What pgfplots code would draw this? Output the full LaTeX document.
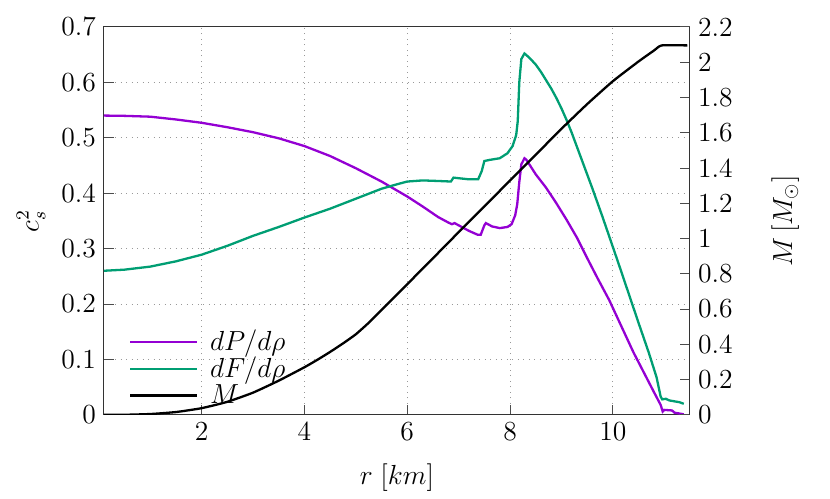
\documentclass[border=0pt]{standalone}
\usepackage{pgfplots}
\pgfplotsset{compat=1.18}
\usetikzlibrary{calc}
\definecolor{cpur}{HTML}{9400D3}
\definecolor{cgrn}{HTML}{009E73}
\pgfplotsset{longleg/.style={legend image code/.code={\draw[##1] (0cm,0cm) -- (1.03cm,0cm);}}}

\begin{document}
\begin{tikzpicture}
\pgfplotsset{
  every axis/.append style={
    scale only axis, width=254.8pt, height=168.7pt,
    xmin=0.1, xmax=11.5,
    tick align=inside, major tick length=4.3pt,
    tick style={black!70, thin},
    axis line style={black!80, thin},
    tick label style={font=\large},
    label style={font=\large},
  },
}
%% left axis: sound speeds
\begin{axis}[
  name=ax,
  ymin=0, ymax=0.7,
  xtick={2,4,6,8,10}, ytick={0,0.1,...,0.7},
  yticklabels={0,0.1,0.2,0.3,0.4,0.5,0.6,0.7},
  xtick pos=bottom, ytick pos=left,
  grid=major, grid style={dotted, black!40},
  xlabel={$r\;[km]$}, ylabel={$c_s^2$},
  xlabel style={yshift=-3pt},
  legend style={at={(0.03,-0.004)}, anchor=south west, draw=none, fill=none,
                row sep=-2.6pt, column sep=3pt, font=\large},
  legend cell align=left,
]
%% dP/drho
\addplot[cpur, line width=1pt, longleg] coordinates {
  (0.1,0.540)(0.5,0.5395)(1.0,0.538)(1.5,0.533)(2.0,0.527)(2.5,0.519)
  (3.0,0.510)(3.5,0.499)(4.0,0.485)(4.5,0.467)(5.0,0.445)(5.5,0.421)
  (6.0,0.394)(6.3,0.376)(6.6,0.357)(6.8,0.347)(6.87,0.344)(6.92,0.346)
  (7.0,0.342)(7.2,0.332)(7.37,0.325)(7.43,0.325)(7.5,0.342)(7.53,0.346)
  (7.65,0.340)(7.8,0.337)(7.95,0.339)(8.03,0.344)(8.1,0.360)(8.14,0.38)
  (8.18,0.42)(8.22,0.452)(8.28,0.463)(8.32,0.460)(8.5,0.434)(8.7,0.410)
  (8.9,0.382)(9.1,0.352)(9.3,0.320)(9.5,0.283)(9.7,0.247)(9.93,0.207)
  (10.2,0.153)(10.4,0.113)(10.6,0.077)(10.8,0.041)(10.93,0.018)
  (10.97,0.006)(11.0,0.009)(11.15,0.008)(11.2,0.004)(11.38,0.001)
};
\addlegendentry{$dP/d\rho$}
%% dF/drho
\addplot[cgrn, line width=1pt, longleg] coordinates {
  (0.1,0.260)(0.5,0.262)(1.0,0.2675)(1.5,0.277)(2.0,0.289)(2.5,0.305)
  (3.0,0.323)(3.5,0.339)(4.0,0.356)(4.5,0.372)(5.0,0.390)(5.5,0.408)
  (5.8,0.416)(6.0,0.421)(6.3,0.423)(6.6,0.422)(6.85,0.421)(6.9,0.428)
  (7.0,0.427)(7.2,0.425)(7.38,0.425)(7.45,0.44)(7.5,0.458)(7.6,0.460)
  (7.8,0.463)(7.95,0.472)(8.05,0.485)(8.12,0.505)(8.15,0.53)(8.18,0.60)
  (8.22,0.642)(8.28,0.652)(8.32,0.649)(8.4,0.642)(8.5,0.632)(8.6,0.619)
  (8.7,0.604)(8.8,0.589)(8.9,0.572)(9.0,0.553)(9.1,0.532)(9.2,0.509)
  (9.3,0.484)(9.4,0.459)(9.5,0.434)(9.6,0.409)(9.7,0.383)(9.8,0.357)
  (9.9,0.330)(10.0,0.303)(10.1,0.276)(10.3,0.221)(10.5,0.166)
  (10.7,0.112)(10.85,0.068)(10.93,0.033)(10.96,0.028)(11.03,0.029)
  (11.1,0.026)(11.29,0.023)(11.38,0.020)
};
\addlegendentry{$dF/d\rho$}
\addlegendimage{black, line width=1pt, longleg}
\addlegendentry{$M$}
\end{axis}
%% right axis: mass
\begin{axis}[
  ymin=0, ymax=2.2,
  axis x line=none, axis y line*=right,
  ytick={0,0.2,...,2.2},
  yticklabels={0,0.2,0.4,0.6,0.8,1,1.2,1.4,1.6,1.8,2,2.2},
  ylabel={$M\,[M_\odot]$},
  ylabel style={yshift=-10pt},
]
\addplot[black, line width=1pt, smooth, tension=0.3] coordinates {
  (0.1,0.0)(0.5,0.0006)(1.0,0.0048)(1.5,0.016)(2.0,0.038)(2.5,0.074)
  (3.0,0.126)(3.5,0.194)(4.0,0.27)(4.25,0.312)(4.5,0.357)(4.75,0.405)
  (5.0,0.457)(5.25,0.522)(5.5,0.595)(5.75,0.668)(6.0,0.741)(6.5,0.888)
  (7.0,1.036)(7.5,1.182)(8.0,1.329)(8.5,1.475)(9.0,1.622)(9.5,1.762)
  (10.0,1.892)(10.5,2.004)(10.8,2.066)(10.95,2.095)(11.45,2.095)
};
\end{axis}
\path ($(ax.south west)+(-45.2pt,-36.1pt)$) rectangle ($(ax.north east)+(60.9pt,11.7pt)$);
\end{tikzpicture}
\end{document}
